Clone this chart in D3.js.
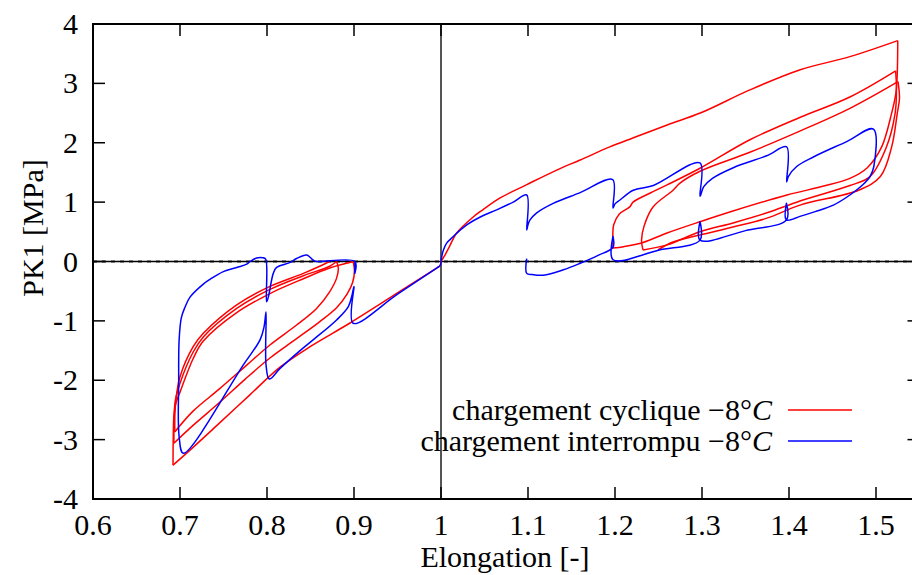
<!DOCTYPE html>
<html>
<head>
<meta charset="utf-8">
<script src="https://cdn.jsdelivr.net/npm/d3@7"></script>
<style>
	body { margin: 0; background: #fff; }
</style>
</head>
<body>
<svg id="chart" width="912" height="575" font-family="'Liberation Serif', 'Times New Roman', Times, 'DejaVu Serif', serif"></svg>
<script>
// tick values and labels
const xTicks = [0.6, 0.7, 0.8, 0.9, 1.0, 1.1, 1.2, 1.3, 1.4, 1.5];
const xTickLabels = ["0.6", "0.7", "0.8", "0.9", "1", "1.1", "1.2", "1.3", "1.4", "1.5"];
const yTicks = [-4, -3, -2, -1, 0, 1, 2, 3, 4];
const yTickLabels = ["-4", "-3", "-2", "-1", "0", "1", "2", "3", "4"];

// chargement cyclique (red) - traction
const cycLoad1 = [[1.0,0.0],[1.005,0.12],[1.01,0.26],[1.018,0.48],[1.037,0.75],[1.048,0.87],[1.068,1.07],[1.098,1.29],[1.133,1.54],[1.16,1.71],[1.194,1.93],[1.217,2.06],[1.26,2.3],[1.298,2.5],[1.355,2.89],[1.413,3.23],[1.47,3.45],[1.525,3.72]];
const cycUnload1 = [[1.525,3.72],[1.5245,3.2],[1.523,2.85],[1.518,2.5],[1.5065,1.93],[1.49,1.58],[1.47,1.4],[1.44,1.27],[1.3977,1.12],[1.3356,0.85],[1.2977,0.67],[1.2598,0.48],[1.2322,0.32],[1.21,0.25],[1.1977,0.227]];
const cycReload2 = [[1.1977,0.227],[1.1975,0.45],[1.1985,0.62],[1.205,0.8],[1.217,0.92],[1.2207,1.0],[1.24,1.15],[1.2598,1.29],[1.2977,1.57],[1.355,2.05],[1.413,2.43],[1.47,2.77],[1.5226,3.21]];
const cycUnload2 = [[1.5226,3.21],[1.5235,2.9],[1.522,2.5],[1.512,1.93],[1.493,1.43],[1.47,1.28],[1.4126,1.02],[1.3747,0.82],[1.3356,0.65],[1.2977,0.5],[1.2598,0.28],[1.2322,0.194]];
const cycReload3 = [[1.2322,0.194],[1.2305,0.36],[1.2335,0.6],[1.2437,0.918],[1.2667,1.2],[1.2747,1.32],[1.2977,1.52],[1.355,1.84],[1.413,2.2],[1.47,2.58],[1.5253,3.03]];
const cycUnload3 = [[1.5253,3.03],[1.527,2.75],[1.5245,2.5],[1.518,1.93],[1.505,1.43],[1.48,1.2],[1.4126,0.95],[1.3747,0.73],[1.3356,0.58],[1.2977,0.446],[1.2667,0.328],[1.2494,0.194]];
// chargement cyclique (red) - compression
const cycLoadC1 = [[1.0,0.0],[0.999,-0.07],[0.995,-0.11],[0.95,-0.53],[0.8954,-1.036],[0.85,-1.43],[0.815,-1.78],[0.78,-2.25],[0.7425,-2.76],[0.715,-3.13],[0.692,-3.43]];
const cycUnloadC1 = [[0.692,-3.43],[0.6922,-3.0],[0.693,-2.6],[0.695,-2.4],[0.70,-2.2],[0.7153,-1.63],[0.7268,-1.34],[0.7652,-0.86],[0.8034,-0.54],[0.8418,-0.29],[0.872,-0.11],[0.89,-0.035],[0.899,0.0]];
const cycReloadC2 = [[0.899,0.0],[0.9005,-0.15],[0.8985,-0.35],[0.892,-0.55],[0.88,-0.78],[0.86,-1.02],[0.834,-1.3],[0.803,-1.63],[0.775,-1.98],[0.745,-2.38],[0.715,-2.76],[0.693,-3.06]];
const cycUnloadC2 = [[0.693,-3.06],[0.6932,-2.7],[0.6945,-2.35],[0.70,-2.05],[0.7153,-1.52],[0.7268,-1.27],[0.7652,-0.79],[0.8034,-0.47],[0.8418,-0.24],[0.872,-0.08],[0.880,0.0]];
const cycReloadC3 = [[0.880,0.0],[0.882,-0.11],[0.880,-0.28],[0.872,-0.51],[0.857,-0.79],[0.834,-1.07],[0.803,-1.41],[0.777,-1.74],[0.745,-2.15],[0.715,-2.52],[0.694,-2.87]];
const cycUnloadC3 = [[0.694,-2.87],[0.6942,-2.55],[0.696,-2.25],[0.70,-1.94],[0.7153,-1.43],[0.7268,-1.21],[0.7652,-0.73],[0.8034,-0.42],[0.8418,-0.2],[0.865,-0.05],[0.872,0.0]];

// chargement interrompu (blue)
const intTension = [[1.0,0.0],[1.0008,0.08],[1.0027,0.19],[1.0065,0.31],[1.0141,0.42],[1.018,0.475],[1.03,0.62],[1.048,0.77],[1.064,0.87],[1.083,1.0],[1.0985,1.12],
	[1.0985,0.53],[1.1,0.62],[1.1023,0.7],[1.11,0.82],[1.129,0.98],[1.16,1.16],[1.1973,1.38],
	[1.1977,0.9],[1.2,0.97],[1.2057,1.036],[1.221,1.2],[1.244,1.28],[1.2977,1.66],
	[1.2977,1.1],[1.302,1.26],[1.312,1.4],[1.336,1.58],[1.3743,1.78],[1.3973,1.93],
	[1.3973,1.34],[1.3992,1.43],[1.4088,1.6],[1.428,1.76],[1.4663,2.02],[1.497,2.23],
	[1.4975,1.6],[1.4931,1.43],[1.4854,1.3],[1.47,1.12],[1.451,0.95],[1.43,0.84],[1.4126,0.76],[1.397,0.70],
	[1.397,0.98],[1.397,0.70],[1.35,0.52],[1.2977,0.36],
	[1.2977,0.67],[1.2977,0.36],[1.25,0.19],[1.1977,0.03],
	[1.1977,0.42],[1.1977,0.24],[1.18,0.1],[1.16,-0.03],[1.1406,-0.14],[1.1176,-0.23],[1.105,-0.22],[1.0985,-0.2],
	[1.0985,0.05]];
const intCompression = [[1.0,0.0],[0.999,-0.07],[0.995,-0.11],[0.95,-0.55],[0.899,-1.04],
	[0.9,-0.42],[0.898,-0.55],[0.8935,-0.76],[0.88,-0.985],[0.853,-1.32],[0.838,-1.5],[0.815,-1.8],[0.8026,-1.98],
	[0.7989,-1.74],[0.7989,-0.85],[0.7966,-1.1],[0.792,-1.32],[0.7728,-1.74],[0.7038,-3.23],
	[0.699,-2.95],[0.6985,-2.0],[0.699,-1.32],[0.7015,-0.95],[0.7057,-0.77],[0.7115,-0.6],[0.7268,-0.38],[0.7345,-0.3],[0.7498,-0.17],[0.7652,-0.1],[0.7767,-0.045],[0.7805,0.0],[0.788,0.06],[0.795,0.065],[0.7985,0.04],
	[0.7995,-0.68],[0.8015,-0.6],[0.8072,-0.2],[0.811,-0.1],[0.826,-0.02],[0.834,0.05],[0.8456,0.11],[0.853,0.025],[0.857,0.0],
	[0.901,0.0],[0.901,-0.2],[0.901,0.0]];

const cyclicCurves = [cycLoad1, cycUnload1, cycReload2, cycUnload2, cycReload3, cycUnload3,
	cycLoadC1, cycUnloadC1, cycReloadC2, cycUnloadC2, cycReloadC3, cycUnloadC3];
const interruptedCurves = [intTension, intCompression];

const seriesNames = ["chargement cyclique", "chargement interrompu"];
const seriesColours = ["#ff0000", "#0000ff"];

function drawChart(holder){
	let svg = d3.select(holder);
	let margin = {"left": 93, "top": 24, "bottom": 76, "right": -7.5};
	let width = 912, height = 575;
	let fontFamily = "'Liberation Serif', 'Times New Roman', Times, serif";

	let x = d3.scaleLinear().domain([0.6, 1.55]).range([margin.left, width - margin.right]);
	let y = d3.scaleLinear().domain([-4, 4]).range([height - margin.bottom, margin.top]);

	svg.append("rect").attr("width", width).attr("height", height).attr("fill", "#fff");

	svg.append("defs").append("clipPath").attr("id", "plotClip")
		.append("rect")
		.attr("x", x(0.6)).attr("y", y(4))
		.attr("width", x(1.55) - x(0.6)).attr("height", y(-4) - y(4));

	// zero axes
	svg.append("line")
		.attr("x1", x(0.6)).attr("x2", x(1.55))
		.attr("y1", y(0)).attr("y2", y(0))
		.attr("stroke", "#999").attr("stroke-width", 3)
		.attr("stroke-dasharray", "4,5");
	svg.append("line")
		.attr("x1", x(0.6)).attr("x2", x(1.55))
		.attr("y1", y(0)).attr("y2", y(0))
		.attr("stroke", "#000").attr("stroke-width", 1.3);
	svg.append("line")
		.attr("x1", x(1)).attr("x2", x(1))
		.attr("y1", y(4)).attr("y2", y(-4))
		.attr("stroke", "#555").attr("stroke-width", 2);

	let line = d3.line()
		.x(d => x(d[0]))
		.y(d => y(d[1]))
		.curve(d3.curveCatmullRom.alpha(0.5));

	let plot = svg.append("g").attr("clip-path", "url(#plotClip)");

	plot.selectAll(".cyclic")
		.data(cyclicCurves)
		.enter().append("path")
		.attr("class", "cyclic")
		.attr("d", line)
		.attr("fill", "none")
		.attr("stroke", seriesColours[0])
		.attr("stroke-width", 1.5);

	plot.selectAll(".interrupted")
		.data(interruptedCurves)
		.enter().append("path")
		.attr("class", "interrupted")
		.attr("d", line)
		.attr("fill", "none")
		.attr("stroke", seriesColours[1])
		.attr("stroke-width", 1.5)
		.attr("stroke-linejoin", "round");

	// frame
	svg.append("rect")
		.attr("x", x(0.6)).attr("y", y(4))
		.attr("width", x(1.55) - x(0.6)).attr("height", y(-4) - y(4))
		.attr("fill", "none").attr("stroke", "#000").attr("stroke-width", 2);

	let tickLen = 12;
	let ticks = svg.append("g").attr("stroke", "#000").attr("stroke-width", 1.5);
	xTicks.forEach(function(t){
		ticks.append("line").attr("x1", x(t)).attr("x2", x(t)).attr("y1", y(-4)).attr("y2", y(-4) - tickLen);
		ticks.append("line").attr("x1", x(t)).attr("x2", x(t)).attr("y1", y(4)).attr("y2", y(4) + tickLen);
	});
	yTicks.forEach(function(t){
		ticks.append("line").attr("x1", x(0.6)).attr("x2", x(0.6) + tickLen).attr("y1", y(t)).attr("y2", y(t));
		ticks.append("line").attr("x1", x(1.55)).attr("x2", x(1.55) - tickLen).attr("y1", y(t)).attr("y2", y(t));
	});

	svg.selectAll(".xlabel")
		.data(xTicks)
		.enter().append("text")
		.attr("class", "xlabel")
		.attr("x", d => x(d))
		.attr("y", y(-4) + 36)
		.attr("text-anchor", "middle")
		.attr("font-family", fontFamily)
		.attr("font-size", 30)
		.text((d, i) => xTickLabels[i]);

	svg.selectAll(".ylabel")
		.data(yTicks)
		.enter().append("text")
		.attr("class", "ylabel")
		.attr("x", x(0.6) - 15)
		.attr("y", d => y(d) + 10)
		.attr("text-anchor", "end")
		.attr("font-family", fontFamily)
		.attr("font-size", 30)
		.text((d, i) => yTickLabels[i]);

	svg.append("text")
		.attr("x", 505).attr("y", 567)
		.attr("text-anchor", "middle")
		.attr("font-family", fontFamily)
		.attr("font-size", 30)
		.text("Elongation [-]");

	svg.append("text")
		.attr("transform", "translate(43," + 228 + ") rotate(-90)")
		.attr("text-anchor", "middle")
		.attr("font-family", fontFamily)
		.attr("font-size", 30)
		.text("PK1 [MPa]");

	// legend
	let legend = svg.append("g").attr("class", "legend");
	seriesNames.forEach(function(name, i){
		let ly = 410 + i * 31;
		let t = legend.append("text")
			.attr("x", 772).attr("y", ly + 10)
			.attr("text-anchor", "end")
			.attr("font-family", fontFamily)
			.attr("font-size", 30);
		t.append("tspan").text(name + " \u22128\u00b0");
		t.append("tspan").attr("font-style", "italic").text("C");
		legend.append("line")
			.attr("x1", 788).attr("x2", 852)
			.attr("y1", ly).attr("y2", ly)
			.attr("stroke", seriesColours[i]).attr("stroke-width", 1.5);
	});
}

drawChart("#chart");
</script>
</body>
</html>
